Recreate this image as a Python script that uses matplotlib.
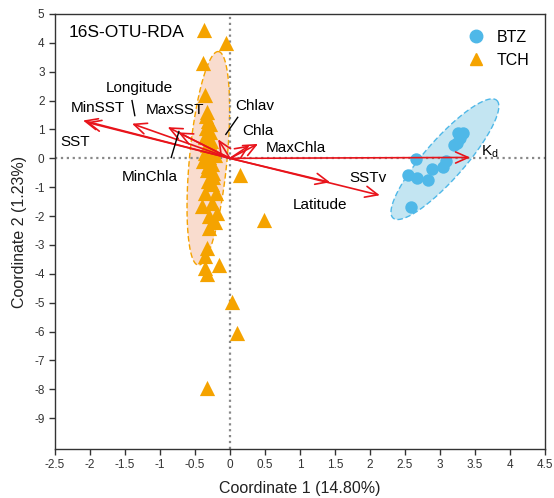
import numpy as np
import matplotlib.pyplot as plt
from matplotlib.lines import Line2D

plt.rcParams['font.family'] = ['Liberation Sans', 'DejaVu Sans']
plt.rcParams['axes.unicode_minus'] = False

# sample scores
btz_x = [3.26, 3.33, 3.29, 3.24, 3.20, 2.66, 3.09, 3.04, 2.89, 2.54, 2.67, 2.83, 2.59]
btz_y = [0.87, 0.87, 0.69, 0.52, 0.45, -0.03, -0.10, -0.31, -0.38, -0.59, -0.69, -0.76, -1.70]

tch_x = [-0.37, -0.06, -0.39, -0.36, -0.33, -0.31, -0.34, -0.29, -0.36, -0.27,
         -0.33, -0.24, -0.36, -0.30, -0.21, -0.38, -0.26, -0.33, -0.25, -0.31,
         -0.26, -0.36, -0.20, -0.26, -0.40, -0.19, -0.30, -0.33, -0.36, -0.16,
         -0.36, -0.33, 0.14, 0.49, 0.03, 0.10, -0.33, -0.30, -0.22, -0.35,
         -0.28, -0.32, -0.25]
tch_y = [4.43, 3.98, 3.29, 2.18, 1.60, 1.30, 1.05, 0.90, 0.75, 0.60,
         0.45, 0.30, 0.20, 0.05, 0.10, -0.10, -0.20, -0.40, -0.50, -0.80,
         -0.90, -1.20, -1.20, -1.55, -1.65, -1.90, -2.40, -3.10, -3.40, -3.70,
         -3.80, -4.00, -0.59, -2.15, -4.98, -6.05, -7.96, -2.00, -2.20, 1.45,
         1.20, -0.25, -0.65]

# environmental vectors (arrow tips)
env_names = ['SST', 'MinSST', 'Longitude', 'MaxSST', 'MinChla', 'Chlav',
             'Chla', 'MaxChla', 'SSTv', 'Latitude', 'Kd']
env_x = [-2.05, -2.10, -1.40, -0.89, -0.74, -0.17, 0.40, 0.28, 1.43, 2.14, 3.43]
env_y = [1.25, 1.31, 1.20, 1.08, 0.90, 0.66, 0.50, 0.45, -0.83, -1.28, 0.03]

# label positions
lab_text = ['SST', 'MinSST', 'Longitude', 'MaxSST', 'MinChla', 'Chlav',
            'Chla', 'MaxChla', 'SSTv', 'Latitude', 'K$_\\mathregular{d}$']
lab_x = [-2.21, -1.89, -1.29, -0.79, -1.14, 0.36, 0.40, 0.94, 1.97, 1.29, 3.71]
lab_y = [0.55, 1.73, 2.42, 1.66, -0.66, 1.80, 0.93, 0.35, -0.69, -1.63, 0.24]

# leader lines: (x0, y0, x1, y1)
leaders = [(-1.40, 2.00, -1.36, 1.48),
           (-0.73, 0.93, -0.84, 0.03),
           (0.11, 1.42, -0.06, 0.83)]

# confidence ellipses: center, half major vector, half minor vector
tch_ell = ((-0.31, 0.0), (0.14, 3.70), (0.27, 0.0))
btz_ell = ((3.07, -0.03), (0.74, 2.04), (0.214, -0.457))

blue = '#4FB8E8'
orange = '#F5A300'
red = '#E8141B'

fig = plt.figure(figsize=(5.54, 4.98), dpi=100)
ax = fig.add_axes([0.0993, 0.0984, 0.8845, 0.8735])


def draw_ellipse(ell, face, edge):
    (cx, cy), v1, v2 = ell
    t = np.linspace(0, 2 * np.pi, 200)
    ex = cx + v1[0] * np.cos(t) + v2[0] * np.sin(t)
    ey = cy + v1[1] * np.cos(t) + v2[1] * np.sin(t)
    ax.fill(ex, ey, color=face, zorder=1, lw=0)
    ax.plot(ex, ey, color=edge, ls=(0, (4, 2)), lw=1.0, zorder=1.5)


draw_ellipse(tch_ell, '#F9DCCE', orange)
draw_ellipse(btz_ell, '#C3E5F2', blue)

ax.axvline(0, color='#888888', ls=':', lw=1.6, zorder=2)
ax.axhline(0, color='#888888', ls=':', lw=1.6, zorder=2)

ax.scatter(tch_x, tch_y, marker='^', s=120, color=orange, lw=0, zorder=3)
ax.scatter(btz_x, btz_y, marker='o', s=80, color=blue, lw=0, zorder=3)

for x, y in zip(env_x, env_y):
    ax.annotate('', xy=(x, y), xytext=(0, 0),
                arrowprops=dict(arrowstyle='->,head_length=0.9,head_width=0.4',
                                color=red, lw=1.2, shrinkA=0, shrinkB=0),
                zorder=4)

for t, x, y in zip(lab_text, lab_x, lab_y):
    ax.text(x, y, t, ha='center', va='center', fontsize=11, zorder=5)

for x0, y0, x1, y1 in leaders:
    ax.plot([x0, x1], [y0, y1], color='black', lw=1.0, zorder=5)

ax.text(-2.31, 4.36, '16S-OTU-RDA', fontsize=12.5, ha='left', va='center')

ax.set_xlim(-2.5, 4.5)
ax.set_ylim(-10.07, 5)
xt = np.arange(-2.5, 4.51, 0.5)
ax.set_xticks(xt)
ax.set_xticklabels(['%g' % v for v in xt])
ax.set_yticks(np.arange(-9, 6, 1))
ax.tick_params(labelsize=8.5, length=4, width=1, color='#333333', labelcolor='#333333')
for s in ax.spines.values():
    s.set_color('#333333')
    s.set_linewidth(1.0)

ax.set_xlabel('Coordinate 1 (14.80%)', fontsize=11.5, color='#222222', labelpad=7)
ax.set_ylabel('Coordinate 2 (1.23%)', fontsize=11.5, color='#222222', labelpad=5)

handles = [Line2D([], [], marker='o', ls='', color=blue, markersize=9, label='BTZ'),
           Line2D([], [], marker='^', ls='', color=orange, markersize=9, label='TCH')]
ax.legend(handles=handles, loc='upper right', frameon=False, fontsize=11.5,
          handletextpad=0.3, borderaxespad=0.6, labelspacing=0.5)

fig.savefig('out.png', dpi=100)
